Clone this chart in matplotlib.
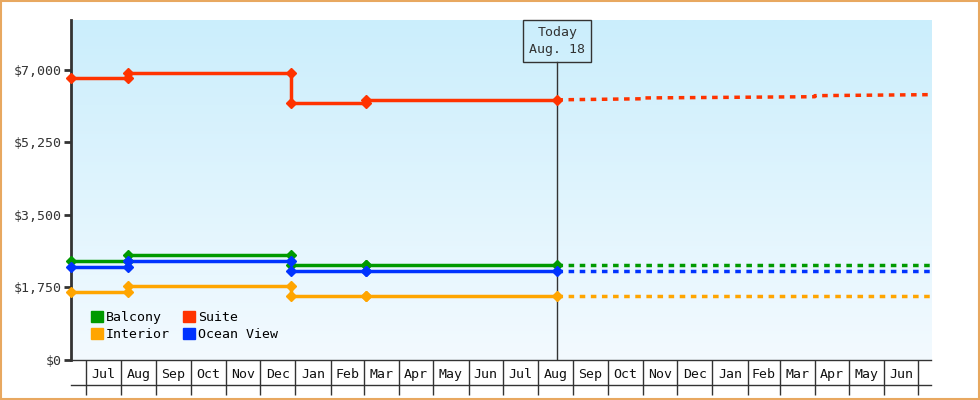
import matplotlib
matplotlib.use("Agg")
import matplotlib.pyplot as plt
import matplotlib.dates as mdates
import numpy as np
from datetime import datetime, timedelta

# ---- data ----
hist_dates = ["2023-06-18", "2023-08-07", "2023-08-07", "2023-12-28", "2023-12-28", "2024-03-03", "2024-03-03", "2024-08-18"]
suite_hist    = [6800, 6800, 6930, 6930, 6200, 6200, 6275, 6275]
balcony_hist  = [2390, 2390, 2535, 2535, 2295, 2295, 2295, 2295]
ocean_hist    = [2245, 2245, 2390, 2390, 2150, 2150, 2150, 2150]
interior_hist = [1640, 1640, 1785, 1785, 1545, 1545, 1545, 1545]
marker_idx = [0, 1, 2, 3, 4, 5, 6, 7]

fc_dates = ["2024-08-18", "2024-11-01", "2024-11-01", "2025-04-01", "2025-04-01", "2025-07-12"]
suite_fc    = [6275, 6300, 6320, 6350, 6375, 6400]
balcony_fc  = [2295] * 6
ocean_fc    = [2150] * 6
interior_fc = [1545] * 6

series_names = ["Balcony", "Interior", "Suite", "Ocean View"]
colors = {"Balcony": "#009900", "Interior": "#ffa500", "Suite": "#ff3300", "Ocean View": "#0033ff"}
yticks = [0, 1750, 3500, 5250, 7000]
month_labels = ["Jul", "Aug", "Sep", "Oct", "Nov", "Dec", "Jan", "Feb", "Mar", "Apr", "May", "Jun"]
today = "2024-08-18"
today_label = "Today\nAug. 18"

plt.rcParams["font.family"] = "DejaVu Sans Mono"

hd = [datetime.fromisoformat(d) for d in hist_dates]
fd = [datetime.fromisoformat(d) for d in fc_dates]
td = datetime.fromisoformat(today)

fig = plt.figure(figsize=(9.8, 4.0), dpi=100)
fig.patches.append(plt.Rectangle((0.001, 0.002), 0.998, 0.996, transform=fig.transFigure,
                                 fill=False, edgecolor="#e8a860", linewidth=1.5))
ax = fig.add_axes([71/980, 40/400, 860/980, 340/400])

xmin, xmax = datetime(2023, 6, 18), datetime(2025, 7, 12)
ax.set_xlim(xmin, xmax)
ax.set_ylim(0, 8200)

# gradient background
grad = np.linspace(0, 1, 256).reshape(-1, 1)
top = np.array([0xcb, 0xee, 0xfc]) / 255
bot = np.array([0xf3, 0xfa, 0xff]) / 255
img = top * (1 - grad[..., None]) + bot * grad[..., None]
img = img.reshape(256, 1, 3)
ax.imshow(img, extent=[0, 1, 0, 1], transform=ax.transAxes, aspect="auto", zorder=0)

hist = {"Balcony": balcony_hist, "Interior": interior_hist, "Suite": suite_hist, "Ocean View": ocean_hist}
fc = {"Balcony": balcony_fc, "Interior": interior_fc, "Suite": suite_fc, "Ocean View": ocean_fc}
for name in series_names:
    c = colors[name]
    ax.plot(hd, hist[name], color=c, lw=2.5, zorder=3, label=name, clip_on=False)
    ax.plot([hd[i] for i in marker_idx], [hist[name][i] for i in marker_idx], "D", color=c,
            ms=5, zorder=4, clip_on=False, label="_nolegend_")
    ax.plot(fd, fc[name], color=c, lw=2.5, ls=(0, (1.6, 1.6)), zorder=3, clip_on=False)

# today line and box
ax.axvline(td, ymin=0, ymax=(360-62)/340, color="#333333", lw=1, zorder=2)
ax.text(td, (360-41)/340, today_label, transform=ax.get_xaxis_transform(), ha="center", va="center",
        fontsize=9.5, color="#333333", linespacing=1.4,
        bbox=dict(boxstyle="square,pad=0.45", fc="none", ec="#333333", lw=1), zorder=5)

# y axis
ax.set_yticks(yticks)
ax.set_yticklabels([f"${v:,}" for v in yticks], fontsize=9.5, color="#333333")
ax.tick_params(axis="y", length=5, width=2, color="#333333", pad=2)
for s in ["top", "right"]:
    ax.spines[s].set_visible(False)
ax.spines["left"].set_linewidth(2)
ax.spines["left"].set_color("#333333")
ax.spines["bottom"].set_color("#333333")
ax.spines["bottom"].set_linewidth(1)

# x axis: month cells
bounds = [datetime(2023, m, 1) for m in range(7, 13)] + [datetime(2024, m, 1) for m in range(1, 13)] + \
         [datetime(2025, m, 1) for m in range(1, 8)]
mids = [b + (bounds[i+1] - b) / 2 for i, b in enumerate(bounds[:-1])]
ax.set_xticks(bounds)
ax.set_xticklabels([""] * len(bounds))
ax.tick_params(axis="x", which="major", direction="out", length=25, width=1, color="#333333")
ax.set_xticks(mids, minor=True)
ax.set_xticklabels(month_labels * 2, minor=True, fontsize=9.5, color="#111111")
ax.tick_params(axis="x", which="minor", length=0, pad=6)
ax.plot([0, 1], [-25/340, -25/340], transform=ax.transAxes, color="#333333", lw=1, clip_on=False)

ax.legend(ncol=2, loc="lower left", bbox_to_anchor=(0.01, 0.02), frameon=False, fontsize=9.5,
          handles=[plt.Rectangle((0, 0), 1, 1, color=colors[n]) for n in series_names],
          labels=series_names, handlelength=0.9, handleheight=0.9, handletextpad=0.2,
          columnspacing=1.0, labelspacing=0.3)

fig.savefig("out.png", dpi=100)
